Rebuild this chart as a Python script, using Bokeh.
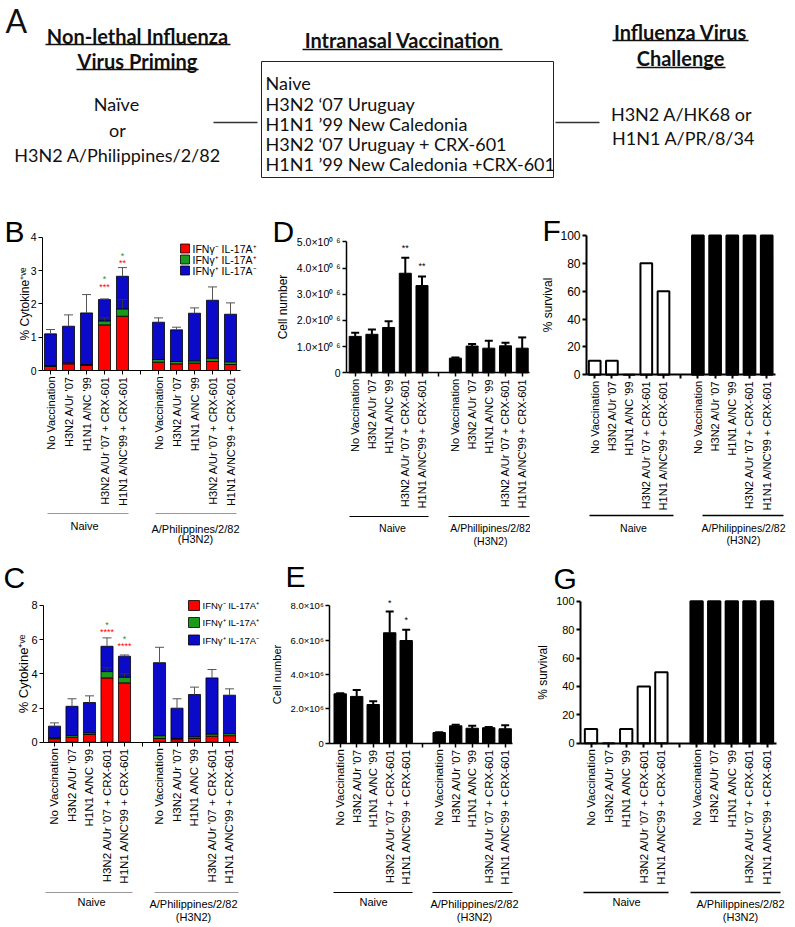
import math
from bokeh.plotting import figure
from bokeh.layouts import column, row
from bokeh.models import Range1d, FixedTicker, ColumnDataSource, Whisker, TeeHead
from bokeh.core.properties import value
from bokeh.embed import file_html
from bokeh.resources import INLINE

FONT = "Liberation Sans"
FONT_A = "Lato"

# ---------------- data ----------------
vaccinations = ["No Vaccination", "H3N2 A/Ur '07", "H1N1 A/NC '99",
                "H3N2 A/Ur '07 + CRX-601", "H1N1 A/NC'99 + CRX-601"]
priming_groups = ["Naive", "A/Philippines/2/82\n(H3N2)"]
priming_groups_d = ["Naive", "A/Phillipines/2/82\n(H3N2)"]
naive_pos = [0, 1, 2, 3, 4]
phil_pos = [6, 7, 8, 9, 10]
bar_pos = naive_pos + phil_pos
cytokine_subsets = ["IFNγ⁻ IL-17A⁺", "IFNγ⁺ IL-17A⁺", "IFNγ⁺ IL-17A⁻"]

# Panel B: % cytokine+ve (HK68 challenge)
b_red = [0.12, 0.20, 0.15, 1.37, 1.63, 0.25, 0.20, 0.22, 0.27, 0.18]
b_green = [0.03, 0.03, 0.03, 0.12, 0.22, 0.08, 0.07, 0.07, 0.10, 0.08]
b_blue = [0.95, 1.10, 1.55, 0.64, 0.98, 1.12, 0.95, 1.43, 1.74, 1.43]
b_sem = [0.13, 0.34, 0.55, 0.02, 0.26, 0.13, 0.08, 0.16, 0.40, 0.34]
b_sem_green = [0, 0, 0, 0.09, 0.28, 0, 0, 0, 0, 0]
b_stars_green = ["", "", "", "*", "*", "", "", "", "", ""]
b_stars_red = ["", "", "", "***", "**", "", "", "", "", ""]

# Panel C: % cytokine+ve (PR8 challenge)
c_red = [0.20, 0.29, 0.45, 3.76, 3.47, 0.22, 0.15, 0.22, 0.35, 0.38]
c_green = [0.05, 0.10, 0.10, 0.37, 0.33, 0.16, 0.07, 0.10, 0.13, 0.12]
c_blue = [0.69, 1.71, 1.77, 1.48, 1.23, 4.27, 1.77, 2.47, 3.28, 2.25]
c_sem = [0.19, 0.44, 0.39, 0.49, 0.07, 0.90, 0.55, 0.43, 0.49, 0.37]
c_sem_green = [0, 0, 0, 0.22, 0.20, 0, 0, 0, 0, 0]
c_stars_green = ["", "", "", "*", "*", "", "", "", "", ""]
c_stars_red = ["", "", "", "****", "****", "", "", "", "", ""]

# Panel D / E: cell number
d_mean = [1.39e6, 1.47e6, 1.73e6, 3.80e6, 3.33e6, 0.56e6, 1.02e6, 0.94e6, 1.03e6, 0.94e6]
d_sem = [0.14e6, 0.18e6, 0.24e6, 0.59e6, 0.35e6, 0.02e6, 0.08e6, 0.28e6, 0.12e6, 0.41e6]
d_stars = ["", "", "", "**", "**", "", "", "", "", ""]
d_yticks = [0, 1000000, 2000000, 3000000, 4000000, 5000000]
d_ylabels = ["0", "1.0×10⁰ ⁶", "2.0×10⁰ ⁶", "3.0×10⁰ ⁶", "4.0×10⁰ ⁶", "5.0×10⁰ ⁶"]

e_mean = [2.87e6, 2.72e6, 2.25e6, 6.42e6, 5.97e6, 0.62e6, 1.01e6, 0.87e6, 0.90e6, 0.84e6]
e_sem = [0.03e6, 0.38e6, 0.19e6, 1.24e6, 0.62e6, 0.02e6, 0.06e6, 0.14e6, 0.04e6, 0.21e6]
e_stars = ["", "", "", "*", "*", "", "", "", "", ""]
e_yticks = [0, 2000000, 4000000, 6000000, 8000000]
e_ylabels = ["0", "2.0×10⁶", "4.0×10⁶", "6.0×10⁶", "8.0×10⁶"]

# Panel F / G: % survival
f_surv = [10, 10, 0, 80, 60, 100, 100, 100, 100, 100]
g_surv = [10, 0, 10, 40, 50, 100, 100, 100, 100, 100]
surv_ticks = [0, 20, 40, 60, 80, 100]

# Panel A texts
priming_title = ["Non-lethal Influenza", "Virus Priming"]
priming_options = ["Naïve", "or", "H3N2 A/Philippines/2/82"]
vacc_title = ["Intranasal Vaccination"]
vacc_options = ["Naive", "H3N2 ‘07 Uruguay", "H1N1 ’99 New Caledonia",
                "H3N2 ‘07 Uruguay + CRX-601", "H1N1 ’99 New Caledonia +CRX-601"]
challenge_title = ["Influenza Virus", "Challenge"]
challenge_options = ["H3N2 A/HK68 or", "H1N1 A/PR/8/34"]

RED, GREEN, BLUE = "#ff0000", "#1a9a1a", "#0a0ac8"


# ---------------- helpers ----------------
def txt(p, xs, ys, texts, size, color="black", align="center", baseline="middle",
        font=FONT, style="normal", angle=0.0):
    p.text(x=xs, y=ys, text=texts, text_font=value(font), text_font_size=value(size),
           text_color=color, text_align=align, text_baseline=baseline,
           text_font_style=style, angle=angle)


def panel(rx0, ry0, rw, rh, ax, kx, ay, ky):
    p = figure(width=rw, height=rh,
               x_range=Range1d((rx0 - ax) / kx, (rx0 + rw - ax) / kx),
               y_range=Range1d((ay - ry0 - rh) / ky, (ay - ry0) / ky),
               output_backend="svg", toolbar_location=None, min_border=0)
    p.outline_line_color = None
    p.grid.visible = False
    X = lambda px: (px - ax) / kx
    Y = lambda py: (ay - py) / ky
    return p, X, Y


def axes(p, X, yaxis_px, xend_px, yticks, ylabels, ymax, ylabel, ylabel_size,
         ytick_size, xtick_size, lw, lab_standoff, groups_gap=5):
    ya = p.yaxis[0]
    ya.fixed_location = X(yaxis_px)
    ya.bounds = (0, ymax)
    ya.ticker = FixedTicker(ticks=yticks)
    ya.major_label_overrides = {t: l for t, l in zip(yticks, ylabels)}
    ya.minor_tick_line_color = None
    ya.major_tick_out = 4
    ya.major_tick_in = 0
    ya.major_label_standoff = 2
    ya.axis_line_width = lw
    ya.major_tick_line_width = lw
    ya.axis_line_color = "black"
    ya.major_tick_line_color = "black"
    ya.major_label_text_font = FONT
    ya.major_label_text_font_size = ytick_size
    ya.major_label_text_color = "black"
    ya.axis_label = ylabel
    ya.axis_label_text_font = FONT
    ya.axis_label_text_font_style = "normal"
    ya.axis_label_text_font_size = ylabel_size
    ya.axis_label_text_color = "black"
    ya.axis_label_standoff = lab_standoff

    xa = p.xaxis[0]
    xa.fixed_location = 0
    xa.bounds = (X(yaxis_px), X(xend_px))
    xa.ticker = FixedTicker(ticks=bar_pos + [groups_gap])
    overrides = {pos: lab for pos, lab in zip(bar_pos, vaccinations * 2)}
    overrides[groups_gap] = ""
    xa.major_label_overrides = overrides
    xa.major_label_orientation = math.pi / 2
    xa.minor_tick_line_color = None
    xa.major_tick_out = 4
    xa.major_tick_in = 0
    xa.major_label_standoff = 2
    xa.axis_line_width = lw
    xa.major_tick_line_width = lw
    xa.axis_line_color = "black"
    xa.major_tick_line_color = "black"
    xa.major_label_text_font = FONT
    xa.major_label_text_font_size = xtick_size
    xa.major_label_text_color = "black"


def error_bars(p, xs, lows, highs, color, lw, cap):
    keep = [(x, lo, hi) for x, lo, hi in zip(xs, lows, highs) if hi > lo]
    src = ColumnDataSource(dict(x=[k[0] for k in keep], lo=[k[1] for k in keep],
                                hi=[k[2] for k in keep]))
    w = Whisker(source=src, base="x", lower="lo", upper="hi", dimension="height",
                line_color=color, line_width=lw,
                upper_head=TeeHead(size=cap, line_color=color, line_width=lw),
                lower_head=None, level="overlay")
    p.add_layout(w)


def group_labels(p, X, Y, names, lines, centers, dy, color, size, lw):
    p.segment(x0=[X(l[0]) for l in lines], y0=[Y(l[2]) for l in lines],
              x1=[X(l[1]) for l in lines], y1=[Y(l[2]) for l in lines],
              line_color=color, line_width=lw)
    xs, ys, ts = [], [], []
    for name, (cx, cy) in zip(names, centers):
        for i, part in enumerate(name.split("\n")):
            xs.append(X(cx)); ys.append(Y(cy + i * dy)); ts.append(part)
    txt(p, xs, ys, ts, size)


def stars(p, X, Y, labels, tops_px, color, size):
    xs, ys, ts = [], [], []
    for pos, lab, ypx in zip(bar_pos, labels, tops_px):
        if lab:
            xs.append(pos); ys.append(Y(ypx)); ts.append(lab)
    txt(p, xs, ys, ts, size, color=color, baseline="top")


def letter(p, X, Y, ch, x_px, mid_px):
    txt(p, [X(x_px)], [Y(mid_px)], [ch], "30px", align="left", baseline="middle")


def manual_legend(p, X, Y, x_px, centers, w, h, text_x, size):
    p.rect(x=[X(x_px + w / 2)] * 3, y=[Y(c) for c in centers], width=w, height=h,
           width_units="screen", height_units="screen",
           fill_color=[RED, GREEN, BLUE], line_color="black", line_width=0.8)
    txt(p, [X(text_x)] * 3, [Y(c) for c in centers], cytokine_subsets, size, align="left")


def stacked_panel(p, X, Y, red, green, blue, sem, sem_green, width):
    src = ColumnDataSource(dict(x=bar_pos, red=red, green=green, blue=blue))
    p.vbar_stack(["red", "green", "blue"], x="x", width=width, source=src,
                 fill_color=[RED, GREEN, BLUE], line_color="black", line_width=0.8)
    tops = [r + g + b for r, g, b in zip(red, green, blue)]
    error_bars(p, bar_pos, tops, [t + s for t, s in zip(tops, sem)], "#555555", 1, 9)
    gtops = [r + g for r, g in zip(red, green)]
    error_bars(p, bar_pos, gtops, [t + s for t, s in zip(gtops, sem_green)], "#333333", 1, 9)


# ---------------- Panel A ----------------
pa = figure(width=794, height=180, x_range=Range1d(0, 794), y_range=Range1d(180, 0),
            output_backend="svg", toolbar_location=None, min_border=0)
pa.axis.visible = False
pa.grid.visible = False
pa.outline_line_color = None
txt(pa, [5], [20], ["A"], "32px", align="left", font=FONT_A, color="#111111")
txt(pa, [137, 137], [35, 60], priming_title, "20px", font=FONT_A, style="bold",
    color="#111111")
txt(pa, [402], [39.5], vacc_title, "20px", font=FONT_A, style="bold", color="#111111")
txt(pa, [680, 680], [31, 57], challenge_title, "20px", font=FONT_A, style="bold",
    color="#111111")
pa.segment(x0=[45, 76, 302, 612, 636], y0=[44, 69, 49, 40, 67],
           x1=[230, 198, 502, 748, 725], y1=[44, 69, 49, 40, 67],
           line_color="#111111", line_width=1.5)
pa.quad(left=[261], right=[553], top=[61], bottom=[177], fill_color=None,
        line_color="#222222", line_width=1)
txt(pa, [265] * 5, [82, 103, 123, 143, 163], vacc_options, "18px", align="left",
    font=FONT_A, color="#111111")
txt(pa, [116, 117, 117], [103, 129, 154], priming_options, "18px", font=FONT_A, color="#111111")
txt(pa, [681, 683], [113, 137], challenge_options, "18px", font=FONT_A, color="#111111")
pa.segment(x0=[213, 555], y0=[122, 122], x1=[257, 599], y1=[122, 122],
           line_color="#333333", line_width=1.5)

# ---------------- Panel B ----------------
pb, X, Y = panel(0, 180, 270, 380, 50, 18, 370, 33.3)
stacked_panel(pb, X, Y, b_red, b_green, b_blue, b_sem, b_sem_green, 0.67)
axes(pb, X, 42, 240, [0, 1, 2, 3, 4], ["0", "1", "2", "3", "4"], 4,
     "% Cytokine⁺ᵛᵉ", "12px", "10.5px", "11px", 1, -4)
manual_legend(pb, X, Y, 180, [248, 259, 270], 9, 9, 192, "10.5px")
stars(pb, X, Y, b_stars_green, [0, 0, 0, 273, 250, 0, 0, 0, 0, 0], GREEN, "9px")
stars(pb, X, Y, b_stars_red, [0, 0, 0, 281, 257, 0, 0, 0, 0, 0], RED, "9px")
group_labels(pb, X, Y, priming_groups, [(47, 128, 513), (155, 236, 513)],
             [(84, 525), (195, 528)], 10, "#999999", "11px", 1.2)
letter(pb, X, Y, "B", 4, 231)

# ---------------- Panel C ----------------
pc, X, Y = panel(0, 560, 270, 366, 54, 17.5, 741.7, 17.1)
stacked_panel(pc, X, Y, c_red, c_green, c_blue, c_sem, c_sem_green, 0.69)
axes(pc, X, 43, 238, [0, 2, 4, 6, 8], ["0", "2", "4", "6", "8"], 8,
     "% Cytokine⁺ᵛᵉ", "13px", "11px", "11.5px", 1, -3)
manual_legend(pc, X, Y, 188, [605, 622, 639.5], 11, 10, 202, "9.5px")
stars(pc, X, Y, c_stars_green, [0, 0, 0, 619, 633, 0, 0, 0, 0, 0], GREEN, "9px")
stars(pc, X, Y, c_stars_red, [0, 0, 0, 626, 640, 0, 0, 0, 0, 0], RED, "9px")
group_labels(pc, X, Y, priming_groups, [(45, 132, 892), (154, 238, 892)],
             [(91, 901), (193, 903)], 13, "#999999", "11px", 1.2)
letter(pc, X, Y, "C", 3, 577)

# ---------------- Panel D ----------------
pd_, X, Y = panel(270, 180, 260, 380, 354.7, 16.7, 372.3, 26.2e-6)
pd_.vbar(x=bar_pos, top=d_mean, width=0.72, fill_color="black", line_color="black")
error_bars(pd_, bar_pos, d_mean, [m + s for m, s in zip(d_mean, d_sem)], "black", 2, 8)
axes(pd_, X, 346, 529, d_yticks, d_ylabels, 5000000, "Cell number", "12px", "10.5px",
     "11px", 1.5, 4)
stars(pd_, X, Y, d_stars, [0, 0, 0, 242, 260, 0, 0, 0, 0, 0], "black", "9px")
group_labels(pd_, X, Y, priming_groups_d, [(349, 428, 516), (448, 529, 516)],
             [(392, 527), (490, 527)], 13, "black", "10.5px", 1.2)
letter(pd_, X, Y, "D", 272, 231)

# ---------------- Panel E ----------------
pe, X, Y = panel(270, 560, 260, 366, 339.7, 16.5, 742.7, 17.2e-6)
pe.vbar(x=bar_pos, top=e_mean, width=0.75, fill_color="black", line_color="black")
error_bars(pe, bar_pos, e_mean, [m + s for m, s in zip(e_mean, e_sem)], "black", 2, 8)
axes(pe, X, 329.3, 512, e_yticks, e_ylabels, 8000000, "Cell number", "11px", "9.5px",
     "11.5px", 1.5, 4)
stars(pe, X, Y, e_stars, [0, 0, 0, 597, 614, 0, 0, 0, 0, 0], "black", "9px")
group_labels(pe, X, Y, priming_groups, [(333, 412, 892), (432, 512, 892)],
             [(373, 901), (474, 903)], 13, "black", "11px", 1.2)
letter(pe, X, Y, "E", 285, 576)

# ---------------- Panel F ----------------
pf, X, Y = panel(530, 180, 264, 380, 594.2, 17.2, 374.3, 1.393)
f_fill = ["white" if pos in naive_pos else "black" for pos in bar_pos]
pf.vbar(x=bar_pos, top=f_surv, width=0.68, fill_color=f_fill, line_color="black", line_width=2)
axes(pf, X, 586, 775, surv_ticks, [str(t) for t in surv_ticks], 100, "% survival", "12px",
     "12px", "11px", 2, 2)
group_labels(pf, X, Y, priming_groups, [(589, 673, 515), (702, 783, 515)],
             [(633, 527), (743, 527)], 12, "black", "10.5px", 1.5)
letter(pf, X, Y, "F", 542, 229.5)

# ---------------- Panel G ----------------
pg, X, Y = panel(530, 560, 264, 366, 590.5, 17.6, 742.7, 1.42)
g_fill = ["white" if pos in naive_pos else "black" for pos in bar_pos]
pg.vbar(x=bar_pos, top=g_surv, width=0.7, fill_color=g_fill, line_color="black", line_width=2)
axes(pg, X, 580, 776, surv_ticks, [str(t) for t in surv_ticks], 100, "% survival", "12px",
     "11px", "11.5px", 2, 3)
group_labels(pg, X, Y, priming_groups, [(583, 668, 892), (690, 780, 892)],
             [(626, 901), (740, 903)], 13, "black", "11px", 1.5)
letter(pg, X, Y, "G", 553, 577.5)

layout = column(pa, row(pb, pd_, pf), row(pc, pe, pg))
open("out.html", "w").write(file_html(layout, INLINE))
